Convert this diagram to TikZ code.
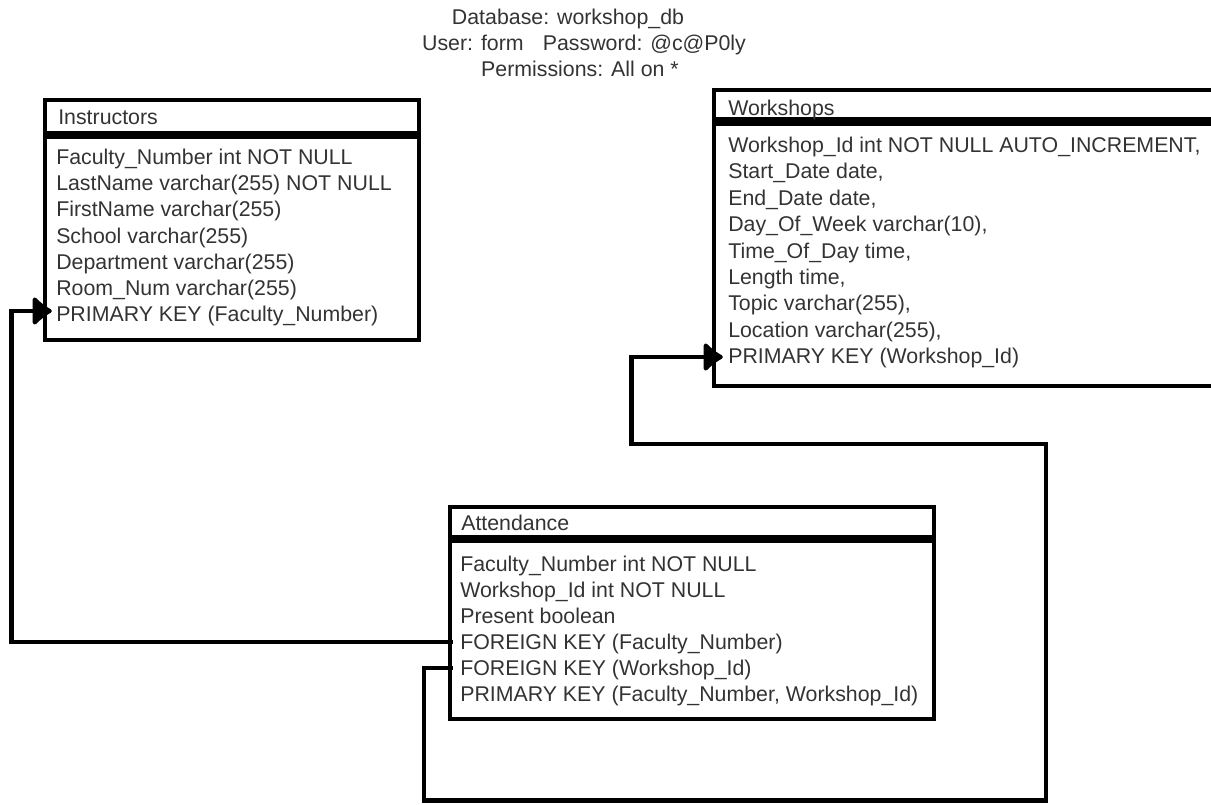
\documentclass[tikz,border=0pt]{standalone}
\usepackage{fontspec}
\setmainfont{Liberation Sans}
\usetikzlibrary{arrows.meta,fit,calc}
\begin{document}
\begin{tikzpicture}[x=0.75pt,y=-0.75pt,
  box/.style={draw=black,line width=3.3pt,inner sep=0pt,rectangle},
  lbl/.style={anchor=base west,inner sep=0pt,text height=11.25pt,text depth=0pt,font=\fontsize{16}{19}\selectfont,text=black!80},
  toplbl/.style={anchor=base,inner sep=0pt,font=\fontsize{16}{19}\selectfont,text=black!80},
  conn/.style={line width=3.3pt},
  fk/.style={conn,arrows={-Latex[length=16pt,width=26pt,line width=3pt,round]}}
]
\useasboundingbox (0,0) rectangle (1211,804);
\clip (0,0) rectangle (1211,804);

% header texts
\node[toplbl] (t1) at (568,24) {Database: workshop\_db};
\node[toplbl] (t2) at (584,50) {User: form\hspace{0.9em}Password: @c@P0ly};
\node[toplbl] (t3) at (580,76) {Permissions: All on *};

% Instructors
\node[box,fit={(45,100)(419,133)}] (instH) {};
\node[box,fit={(45,136.5)(419,340)}] (instB) {};
\node[lbl] (ih) at (58,124) {Instructors};
\foreach \t [count=\k from 0] in {{Faculty\_Number int NOT NULL},{LastName varchar(255) NOT NULL},{FirstName varchar(255)},{School varchar(255)},{Department varchar(255)},{Room\_Num varchar(255)},{PRIMARY KEY (Faculty\_Number)}}
  \node[lbl] (i\k) at (56,164.5+26.2*\k) {\t};

% Workshops
\node[box,fit={(714,90)(1245,119.5)}] (workH) {};
\node[box,fit={(714,124)(1245,386)}] (workB) {};
\node[lbl] (wh) at (728,115) {Workshops};
\foreach \t [count=\k from 0] in {{Workshop\_Id int NOT NULL AUTO\_INCREMENT,},{Start\_Date date,},{End\_Date date,},{Day\_Of\_Week varchar(10),},{Time\_Of\_Day time,},{Length time,},{Topic varchar(255),},{Location varchar(255),},{PRIMARY KEY (Workshop\_Id)}}
  \node[lbl] (w\k) at (728,152.5+26.4*\k) {\t};

% Attendance
\node[box,fit={(450,507)(934,537)}] (attH) {};
\node[box,fit={(450,541)(934,719)}] (attB) {};
\node[lbl] (ah) at (461,530) {Attendance};
\foreach \t [count=\k from 0] in {{Faculty\_Number int NOT NULL},{Workshop\_Id int NOT NULL},{Present boolean},{FOREIGN KEY (Faculty\_Number)},{FOREIGN KEY (Workshop\_Id)},{PRIMARY KEY (Faculty\_Number, Workshop\_Id)}}
  \node[lbl] (a\k) at (460,571.5+26*\k) {\t};

% connectors
\coordinate (k1) at (11.5,311);
\draw[fk] ($(attB.west |- a3)+(5,0)$) -| (k1) -- ($(instB.west |- k1)+(9,0)$);

\coordinate (k2a) at (424,800.5);
\coordinate (k2b) at (1046,444);
\coordinate (k2c) at (631.5,357);
\draw[fk] ($(attB.west |- a4)+(5,0)$) -| (k2a) -| (k2b) -| (k2c) -- ($(workB.west |- k2c)+(11,0)$);
\end{tikzpicture}
\end{document}
